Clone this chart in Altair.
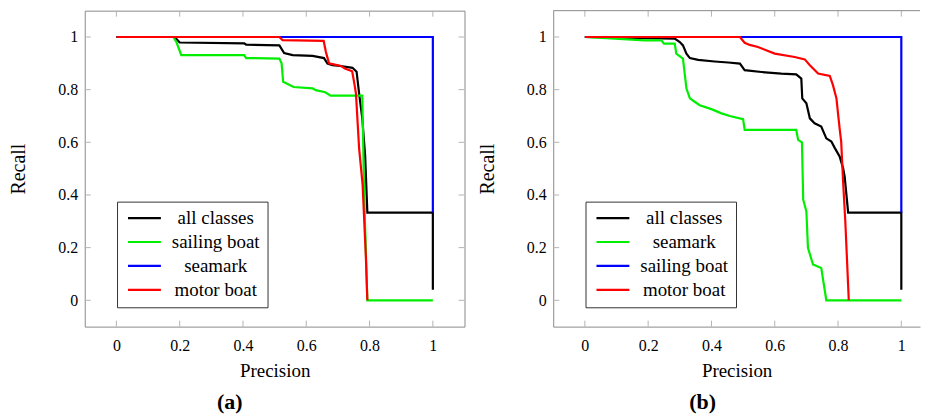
import altair as alt
import pandas as pd

TICKS = [0, 0.2, 0.4, 0.6, 0.8, 1]

# ---------- panel (a) ----------
A_NAMES = ["all classes", "sailing boat", "seamark", "motor boat"]
A_COLORS = ["#000000", "#00ee00", "#0000ff", "#ff0000"]

a_all_x = [0, 0.184, 0.2, 0.404, 0.41, 0.515, 0.53, 0.557, 0.62, 0.656, 0.667, 0.683,
           0.714, 0.746, 0.759, 0.767, 0.777, 0.786, 0.793, 1, 1]
a_all_y = [1, 1, 0.979, 0.976, 0.971, 0.968, 0.939, 0.931, 0.928, 0.92, 0.899, 0.893,
           0.889, 0.883, 0.868, 0.785, 0.691, 0.55, 0.333, 0.333, 0.04]

a_sail_x = [0, 0.18, 0.19, 0.205, 0.404, 0.41, 0.515, 0.522, 0.527, 0.56, 0.62, 0.63,
            0.66, 0.677, 0.777, 0.783, 0.793, 1]
a_sail_y = [1, 1, 0.98, 0.931, 0.931, 0.92, 0.918, 0.9, 0.83, 0.81, 0.805, 0.798,
            0.79, 0.777, 0.777, 0.4, 0, 0]

a_sea_x = [0, 1, 1]
a_sea_y = [1, 1, 0.333]

a_motor_x = [0, 0.515, 0.525, 0.655, 0.662, 0.672, 0.69, 0.71, 0.722, 0.745, 0.752,
             0.757, 0.767, 0.778, 0.788, 0.793]
a_motor_y = [1, 1, 0.988, 0.985, 0.943, 0.9, 0.895, 0.89, 0.88, 0.87, 0.823,
             0.785, 0.577, 0.439, 0.174, 0]

# ---------- panel (b) ----------
B_NAMES = ["all classes", "seamark", "sailing boat", "motor boat"]
B_COLORS = ["#000000", "#00ee00", "#0000ff", "#ff0000"]

b_all_x = [0, 0.284, 0.3, 0.31, 0.321, 0.332, 0.358, 0.41, 0.453, 0.49, 0.505, 0.558,
           0.621, 0.668, 0.684, 0.687, 0.7, 0.711, 0.726, 0.747, 0.763, 0.779, 0.79,
           0.805, 0.816, 0.821, 0.832, 1, 1]
b_all_y = [1, 0.994, 0.981, 0.968, 0.937, 0.92, 0.913, 0.907, 0.903, 0.899, 0.874, 0.867,
           0.861, 0.858, 0.842, 0.767, 0.748, 0.691, 0.672, 0.66, 0.615, 0.603, 0.578,
           0.546, 0.502, 0.47, 0.333, 0.333, 0.04]

b_sea_x = [0, 0.189, 0.242, 0.25, 0.284, 0.289, 0.31, 0.321, 0.332, 0.347, 0.363, 0.4,
           0.432, 0.458, 0.5, 0.505, 0.668, 0.674, 0.686, 0.69, 0.7, 0.705, 0.721,
           0.747, 0.763, 1]
b_sea_y = [1, 0.987, 0.987, 0.975, 0.975, 0.937, 0.918, 0.804, 0.767, 0.754, 0.741, 0.726,
           0.71, 0.7, 0.688, 0.647, 0.647, 0.609, 0.6, 0.382, 0.338, 0.199, 0.136,
           0.123, 0, 0]

b_sail_x = [0, 1, 1]
b_sail_y = [1, 1, 0.333]

b_motor_x = [0, 0.49, 0.505, 0.521, 0.547, 0.6, 0.663, 0.695, 0.711, 0.737, 0.774,
             0.784, 0.795, 0.805, 0.81, 0.816, 0.823, 0.834]
b_motor_y = [1, 1, 0.978, 0.97, 0.962, 0.937, 0.924, 0.915, 0.893, 0.861, 0.852,
             0.817, 0.767, 0.653, 0.603, 0.451, 0.3, 0]

FONT = "Liberation Serif"
H = 317
WA = 381
WB = 368
TICK_LEN = 6
TICK_COLOR = "#b4b4b4"
FRAME = "#8a8a8a"


def long_df(items):
    rows = []
    for name, xs, ys in items:
        for i, (x, y) in enumerate(zip(xs, ys)):
            rows.append({"series": name, "x": x, "y": y, "i": i})
    return pd.DataFrame(rows)


def panel(items, names, colors, xmax, width, caption, caption_dx, boxed):
    df = long_df(items)
    xscale = alt.Scale(domain=[-0.1, xmax], nice=False, zero=False)
    yscale = alt.Scale(domain=[-0.1, 1.1], nice=False, zero=False)
    common = dict(values=TICKS, format="~g", grid=False, ticks=False,
                  domain=not boxed, domainColor=FRAME, domainWidth=1,
                  labelFont=FONT, labelFontSize=16, labelColor="black",
                  titleFont=FONT, titleFontWeight="normal", titleColor="black")
    xaxis = alt.Axis(title="Precision", labelPadding=11, titlePadding=8,
                     titleFontSize=19, **common)
    yaxis = alt.Axis(title="Recall", labelPadding=7, titlePadding=29,
                     titleFontSize=20, **common)
    legend = alt.Legend(orient="none", legendX=32.4, legendY=191.6, title=None,
                        symbolType="M-1,0H5", symbolSize=121, symbolStrokeWidth=2.2,
                        labelFont=FONT, labelFontSize=19, labelAlign="center",
                        labelOffset=73, labelColor="black", padding=7, rowPadding=4,
                        strokeColor="#333333", fillColor="white")
    color = alt.Color("series:N", scale=alt.Scale(domain=names, range=colors),
                      legend=legend)

    tdf = pd.DataFrame({"t": TICKS})
    layers = [
        alt.Chart(tdf).mark_rule(color=TICK_COLOR, strokeWidth=1).encode(
            x=alt.X("t:Q", scale=xscale, axis=xaxis),
            y=alt.value(H), y2=alt.value(H - TICK_LEN)),
        alt.Chart(tdf).mark_rule(color=TICK_COLOR, strokeWidth=1).encode(
            x=alt.X("t:Q", scale=xscale, axis=xaxis),
            y=alt.value(0), y2=alt.value(TICK_LEN)),
        alt.Chart(tdf).mark_rule(color=TICK_COLOR, strokeWidth=1).encode(
            y=alt.Y("t:Q", scale=yscale, axis=yaxis),
            x=alt.value(0), x2=alt.value(TICK_LEN)),
    ]
    if boxed:
        layers.append(alt.Chart(tdf).mark_rule(color=TICK_COLOR, strokeWidth=1).encode(
            y=alt.Y("t:Q", scale=yscale, axis=yaxis),
            x=alt.value(width), x2=alt.value(width - TICK_LEN)))
    else:
        layers.append(alt.Chart(pd.DataFrame({"t": [0]})).mark_rule(
            color=FRAME, strokeWidth=1).encode(
            x=alt.value(0), x2=alt.value(width), y=alt.value(0)))

    for name in names:
        layers.append(
            alt.Chart(df).transform_filter(alt.datum.series == name)
            .mark_line(strokeWidth=2.2, clip=True)
            .encode(x=alt.X("x:Q", scale=xscale, axis=xaxis),
                    y=alt.Y("y:Q", scale=yscale, axis=yaxis),
                    color=color,
                    order=alt.Order("i:Q"))
        )
    props = dict(width=width, height=H,
                 title=alt.TitleParams(caption, orient="bottom", anchor="middle",
                                       frame="group", dx=caption_dx, fontSize=22,
                                       fontWeight="bold", font=FONT, color="black",
                                       offset=12))
    if not boxed:
        props["view"] = alt.ViewBackground(stroke=None)
    return alt.layer(*layers).properties(**props)


pa = panel([("all classes", a_all_x, a_all_y), ("sailing boat", a_sail_x, a_sail_y),
            ("seamark", a_sea_x, a_sea_y), ("motor boat", a_motor_x, a_motor_y)],
           A_NAMES, A_COLORS, 1.1, WA, "(a)", -45, True)
pb = panel([("all classes", b_all_x, b_all_y), ("seamark", b_sea_x, b_sea_y),
            ("sailing boat", b_sail_x, b_sail_y), ("motor boat", b_motor_x, b_motor_y)],
           B_NAMES, B_COLORS, -0.1 + WB / (WA / 1.2), WB, "(b)", -34, False)

chart = (
    alt.hconcat(pa, pb, spacing=12)
    .resolve_scale(color="independent", x="independent", y="independent")
    .resolve_legend(color="independent")
    .properties(padding={"left": 0, "top": 1, "right": 0, "bottom": 0})
    .configure_view(stroke=FRAME, strokeWidth=1)
    .configure_axis(labelFont=FONT, titleFont=FONT, labelFontSize=16,
                    titleFontWeight="normal")
    .configure_legend(labelFont=FONT, labelFontSize=19)
    .configure_title(font=FONT)
)

chart.save("out.html", embed_options={"renderer": "svg", "actions": False})
